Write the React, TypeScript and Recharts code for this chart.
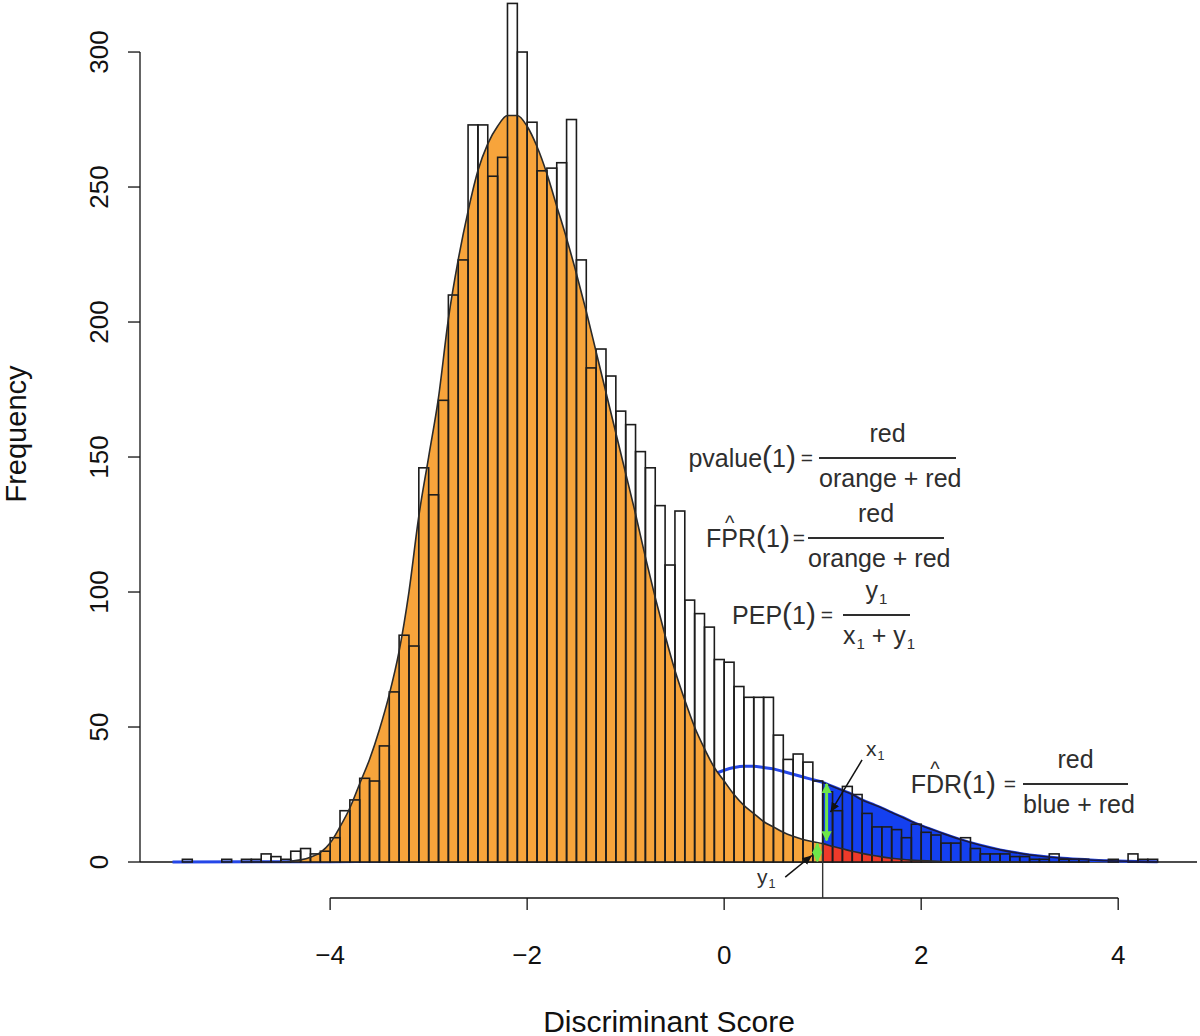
import React from "react";
import { ComposedChart, Bar, Area, Line, XAxis, YAxis, ReferenceLine } from "recharts";

// Discriminant score histogram with null (orange) / alternative (blue) densities.

const FONT = '"Liberation Sans", Arial, Helvetica, sans-serif';
const INK = "#111";
const TEXT = "#2e2e2e";
const ORANGE = "#F7A43B";
const BLUE = "#1440F0";
const BLUE_LINE = "#2446E8";
const RED = "#EE3A2A";
const GREEN = "#6EE64A";

/* ---------- data ---------- */
const binMid = [
  -5.55, -5.45, -5.35, -5.25, -5.15, -5.05, -4.95, -4.85, -4.75, -4.65,
  -4.55, -4.45, -4.35, -4.25, -4.15, -4.05, -3.95, -3.85, -3.75, -3.65,
  -3.55, -3.45, -3.35, -3.25, -3.15, -3.05, -2.95, -2.85, -2.75, -2.65,
  -2.55, -2.45, -2.35, -2.25, -2.15, -2.05, -1.95, -1.85, -1.75, -1.65,
  -1.55, -1.45, -1.35, -1.25, -1.15, -1.05, -0.95, -0.85, -0.75, -0.65,
  -0.55, -0.45, -0.35, -0.25, -0.15, -0.05, 0.05, 0.15, 0.25, 0.35,
  0.45, 0.55, 0.65, 0.75, 0.85, 0.95, 1.05, 1.15, 1.25, 1.35,
  1.45, 1.55, 1.65, 1.75, 1.85, 1.95, 2.05, 2.15, 2.25, 2.35,
  2.45, 2.55, 2.65, 2.75, 2.85, 2.95, 3.05, 3.15, 3.25, 3.35,
  3.45, 3.55, 3.65, 3.75, 3.85, 3.95, 4.05, 4.15, 4.25, 4.35,
];
const counts = [
  0, 1, 0, 0, 0, 1, 0, 1, 1, 3,
  2, 1, 4, 5, 3, 4, 9, 19, 23, 31,
  30, 43, 63, 84, 80, 146, 136, 171, 210, 223,
  273, 273, 254, 261, 318, 300, 274, 256, 257, 259,
  275, 223, 183, 190, 180, 167, 162, 152, 146, 132,
  110, 130, 97, 92, 87, 75, 74, 65, 61, 61,
  61, 47, 38, 40, 37, 30, 26, 19, 28, 25,
  18, 13, 13, 12, 9, 14, 11, 10, 7, 7,
  9, 5, 3, 3, 3, 2, 2, 1, 1, 3,
  1, 1, 1, 0, 0, 1, 0, 3, 1, 1,
];

// null (orange) density curve, scaled to counts
const nullX = [
  -4.5, -4.4, -4.3, -4.2, -4.1, -4.0, -3.9, -3.8, -3.7, -3.6, -3.5, -3.4, -3.3, -3.2, -3.1,
  -3.0, -2.9, -2.8, -2.7, -2.6, -2.5, -2.4, -2.3, -2.2, -2.1, -2.0, -1.9, -1.8, -1.7, -1.6,
  -1.5, -1.4, -1.3, -1.2, -1.1, -1.0, -0.9, -0.8, -0.7, -0.6, -0.5, -0.4, -0.3, -0.2, -0.1,
  0.0, 0.1, 0.2, 0.3, 0.4, 0.5, 0.6, 0.7, 0.8, 0.9, 1.0, 1.1, 1.2, 1.3, 1.4,
  1.5, 1.6, 1.7, 1.8, 1.9, 2.0, 2.2, 2.5, 3.0,
];
const nullY = [
  0, 0.3, 0.8, 1.8, 3.5, 7, 13, 20, 29, 38, 49, 62, 78, 100, 128,
  150, 172, 201, 223, 241, 256, 266, 272.5, 276.5, 276.5, 272.5, 265, 255, 243, 231,
  218, 204, 189, 174, 159, 144, 129, 113, 98, 84, 71, 60, 50, 42, 35,
  30, 25, 21, 18, 15, 13, 11, 9.5, 8.3, 7.5, 6.8, 5.8, 4.9, 4.0, 3.2,
  2.5, 1.9, 1.4, 1.0, 0.7, 0.5, 0.2, 0.05, 0,
];

// alternative (blue) density curve
const altX = [
  -5.6, -4.0, -3.0, -2.5, -2.0, -1.5, -1.0, -0.5, -0.2, 0.0, 0.1, 0.2, 0.3, 0.4, 0.5,
  0.6, 0.7, 0.8, 0.9, 1.0, 1.1, 1.2, 1.3, 1.4, 1.5, 1.6, 1.7, 1.8, 1.9, 2.0,
  2.2, 2.4, 2.6, 2.8, 3.0, 3.2, 3.4, 3.6, 3.8, 4.0, 4.2, 4.4,
];
const altY = [
  0, 0.1, 0.8, 2, 4.5, 9, 16, 25, 31, 34, 35, 35.5, 35.5, 35, 34.5,
  33.5, 32.5, 31.5, 30.5, 29.5, 28, 26.5, 25, 23, 21.5, 20, 18.3, 16.7, 15, 13.5,
  10.8, 8.3, 6.2, 4.5, 3.2, 2.2, 1.5, 1.0, 0.6, 0.4, 0.2, 0.1,
];

const xTicks = [-4, -2, 0, 2, 4];
const yTicks = [0, 50, 100, 150, 200, 250, 300];
const CUT = 1;

const histData = binMid.map((x, i) => ({ x, count: counts[i] }));
const nullCurve = nullX.map((x, i) => ({ x, y: nullY[i] }));
const altCurve = altX.map((x, i) => ({ x, y: altY[i] }));
const nullLeft = nullCurve.filter((d) => d.x <= CUT);
const nullRight = nullCurve.filter((d) => d.x >= CUT);
const altRight = altCurve.filter((d) => d.x >= CUT);
const nullAtCut = nullY[nullX.indexOf(CUT)];
const altAtCut = altY[altX.indexOf(CUT)];

/* ---------- scale frame (R-style offset axes) ---------- */
const X_MIN = -5.93, X_MAX = 4.8;
const Y_MIN = -13.33, Y_MAX = 318.9;
const BIN_PX = 9.85; // one 0.1-wide bin at 98.5 px per unit

const minus = (v: number) => String(v).replace("-", "\u2212");

function XTick({ x, y, payload }: any) {
  return (
    <g>
      <line x1={x} y1={y} x2={x} y2={y + 12} stroke={INK} strokeWidth={1.3} />
      <text x={x} y={y + 66} textAnchor="middle" fontSize={26} fontFamily={FONT} fill={INK}>{minus(payload.value)}</text>
    </g>
  );
}

function YTick({ x, y, payload }: any) {
  const tx = x - 32;
  return (
    <g>
      <line x1={x} y1={y} x2={x - 12} y2={y} stroke={INK} strokeWidth={1.3} />
      <text x={tx} y={y} transform={`rotate(-90 ${tx} ${y})`} textAnchor="middle" fontSize={26} fontFamily={FONT} fill={INK}>{payload.value}</text>
    </g>
  );
}

// histogram cell: keep Recharts' centre, span the full bin so neighbours share edges
function HistRect(p: any) {
  if (!p.height || p.height <= 0) return null;
  const cx = p.x + p.width / 2;
  return (
    <rect x={cx - BIN_PX / 2} y={p.y} width={BIN_PX} height={p.height}
      fill="none" stroke="#1c1c1c" strokeWidth={1.6} />
  );
}

/* ---------- formula text ---------- */
const Sub = ({ children }: { children: React.ReactNode }) => (
  <span style={{ fontSize: "0.6em", position: "relative", top: "0.3em", marginLeft: 1 }}>{children}</span>
);
const P = ({ children }: { children: React.ReactNode }) => (
  <span style={{ fontSize: 30, fontWeight: 300 }}>{children}</span>
);
const Hat = ({ children }: { children: React.ReactNode }) => (
  <span style={{ position: "relative", display: "inline-block" }}>
    {children}
    <span style={{ position: "absolute", left: -4, right: -4, top: -3, height: 8, textAlign: "center", fontSize: 20, lineHeight: "8px" }}>^</span>
  </span>
);

function Formula({ x, y, w, eqGap, lhsGap, lhs, num, den }: {
  x: number; y: number; w: number; eqGap: number; lhsGap: number;
  lhs: React.ReactNode; num: React.ReactNode; den: React.ReactNode;
}) {
  const line = { position: "absolute" as const, whiteSpace: "nowrap" as const, lineHeight: "28px" };
  return (
    <div style={{ position: "absolute", left: x, top: y, width: w, fontSize: 25, color: TEXT }}>
      <div style={{ ...line, right: w + lhsGap, top: -17, lineHeight: "32px" }}>{lhs}</div>
      <div style={{ ...line, right: w + eqGap, top: -14, fontSize: 21 }}>=</div>
      <div style={{ position: "absolute", left: 0, top: -1, width: w, height: 1.7, background: TEXT }} />
      <div style={{ ...line, left: 0, width: w, top: -39, textAlign: "center" }}>{num}</div>
      <div style={{ ...line, left: 0, width: w, top: 6, textAlign: "center" }}>{den}</div>
    </div>
  );
}

export default function App() {
  return (
    <div style={{ position: "absolute", left: 0, top: 0, width: 1200, height: 1036, background: "#fff", fontFamily: FONT, color: TEXT }}>
      <ComposedChart width={1200} height={1036} data={histData} margin={{ top: 1, right: 3, bottom: 0, left: 0 }}
        barCategoryGap="0%" barGap={0}>
        <defs>
          <marker id="gHead" viewBox="0 0 10 10" refX="9" refY="5" markerWidth="3.4" markerHeight="3.4" orient="auto-start-reverse">
            <path d="M0,0 L10,5 L0,10 z" fill={GREEN} />
          </marker>
          <marker id="kHead" viewBox="0 0 10 10" refX="9" refY="5" markerWidth="7" markerHeight="7" orient="auto">
            <path d="M0,1 L9,5 L0,9 z" fill={INK} />
          </marker>
        </defs>
        <XAxis type="number" dataKey="x" domain={[X_MIN, X_MAX]} allowDataOverflow ticks={xTicks} interval={0}
          height={138} axisLine={false} tickLine={false} tickSize={0} tickMargin={0} tick={<XTick />} />
        <YAxis type="number" domain={[Y_MIN, Y_MAX]} allowDataOverflow ticks={yTicks} interval={0}
          width={140} axisLine={false} tickLine={false} tickSize={0} tickMargin={0} tick={<YTick />} />

        <ReferenceLine y={0} stroke={INK} strokeWidth={1.4} ifOverflow="visible" zIndex={50} />

        <Area data={altCurve} dataKey="y" type="monotone" fill="none" stroke={BLUE_LINE} strokeWidth={3}
          isAnimationActive={false} activeDot={false} zIndex={100} />
        <Area data={nullLeft} dataKey="y" type="monotone" fill={ORANGE} fillOpacity={1} stroke="none"
          isAnimationActive={false} activeDot={false} zIndex={110} />
        <Area data={altRight} dataKey="y" type="monotone" fill={BLUE} fillOpacity={1} stroke="none"
          isAnimationActive={false} activeDot={false} zIndex={120} />
        <Area data={nullRight} dataKey="y" type="monotone" fill={RED} fillOpacity={1} stroke="none"
          isAnimationActive={false} activeDot={false} zIndex={130} />

        <Bar dataKey="count" shape={HistRect} fill="none" stroke="#1c1c1c" strokeWidth={1.6}
          isAnimationActive={false} zIndex={300} />

        <Line data={nullCurve} dataKey="y" type="monotone" stroke="#2a2a2a" strokeWidth={1.6} dot={false}
          activeDot={false} isAnimationActive={false} zIndex={400} />
        <Line data={altRight} dataKey="y" type="monotone" stroke="#1a1a40" strokeWidth={1.6} dot={false}
          activeDot={false} isAnimationActive={false} zIndex={400} />

        {/* offset axes */}
        <ReferenceLine segment={[{ x: -4, y: Y_MIN }, { x: 4, y: Y_MIN }]} stroke={INK} strokeWidth={1.3} ifOverflow="visible" zIndex={500} />
        <ReferenceLine segment={[{ x: X_MIN, y: 0 }, { x: X_MIN, y: 300 }]} stroke={INK} strokeWidth={1.3} ifOverflow="visible" zIndex={500} />
        <ReferenceLine segment={[{ x: CUT, y: nullAtCut }, { x: CUT, y: Y_MIN }]} stroke="#333" strokeWidth={1.4} ifOverflow="visible" zIndex={500} />

        {/* x1 / y1 arrows */}
        <ReferenceLine segment={[{ x: CUT + 0.04, y: nullAtCut + 1.2 }, { x: CUT + 0.04, y: altAtCut - 0.6 }]}
          stroke={GREEN} strokeWidth={3} markerStart="url(#gHead)" markerEnd="url(#gHead)" ifOverflow="visible" zIndex={600} />
        <ReferenceLine segment={[{ x: CUT - 0.055, y: 0.3 }, { x: CUT - 0.055, y: nullAtCut }]}
          stroke={GREEN} strokeWidth={3} markerStart="url(#gHead)" markerEnd="url(#gHead)" ifOverflow="visible" zIndex={600} />
        <ReferenceLine segment={[{ x: 1.4, y: 37.8 }, { x: 1.08, y: 18.5 }]}
          stroke={INK} strokeWidth={1.5} markerEnd="url(#kHead)" ifOverflow="visible" zIndex={600} />
        <ReferenceLine segment={[{ x: 0.62, y: -5.6 }, { x: 0.89, y: 2.4 }]}
          stroke={INK} strokeWidth={1.5} markerEnd="url(#kHead)" ifOverflow="visible" zIndex={600} />
      </ComposedChart>

      {/* axis titles */}
      <div style={{ position: "absolute", left: 669, top: 1007, transform: "translateX(-50%)", fontSize: 30, lineHeight: "30px", whiteSpace: "nowrap", color: INK }}>
        Discriminant Score
      </div>
      <div style={{ position: "absolute", left: 16, top: 434, transform: "translate(-50%, -50%) rotate(-90deg)", fontSize: 29, lineHeight: "29px", whiteSpace: "nowrap", color: INK }}>
        Frequency
      </div>

      {/* annotations */}
      <Formula x={819} y={458} w={137} eqGap={6} lhsGap={23}
        lhs={<>pvalue<P>(</P>1<P>)</P></>} num="red" den="orange + red" />
      <Formula x={808} y={538} w={136} eqGap={3} lhsGap={18}
        lhs={<>F<Hat>P</Hat>R<P>(</P>1<P>)</P></>} num="red" den="orange + red" />
      <Formula x={843} y={615} w={67} eqGap={10} lhsGap={27}
        lhs={<>PEP<P>(</P>1<P>)</P></>} num={<>y<Sub>1</Sub></>} den={<>x<Sub>1</Sub> + y<Sub>1</Sub></>} />
      <Formula x={1023} y={784} w={105} eqGap={7} lhsGap={27}
        lhs={<>F<Hat>D</Hat>R<P>(</P>1<P>)</P></>} num="red" den="blue + red" />

      <div style={{ position: "absolute", left: 866, top: 738, fontSize: 21, lineHeight: "21px", color: TEXT }}>x<Sub>1</Sub></div>
      <div style={{ position: "absolute", left: 757, top: 866, fontSize: 21, lineHeight: "21px", color: TEXT }}>y<Sub>1</Sub></div>
    </div>
  );
}
